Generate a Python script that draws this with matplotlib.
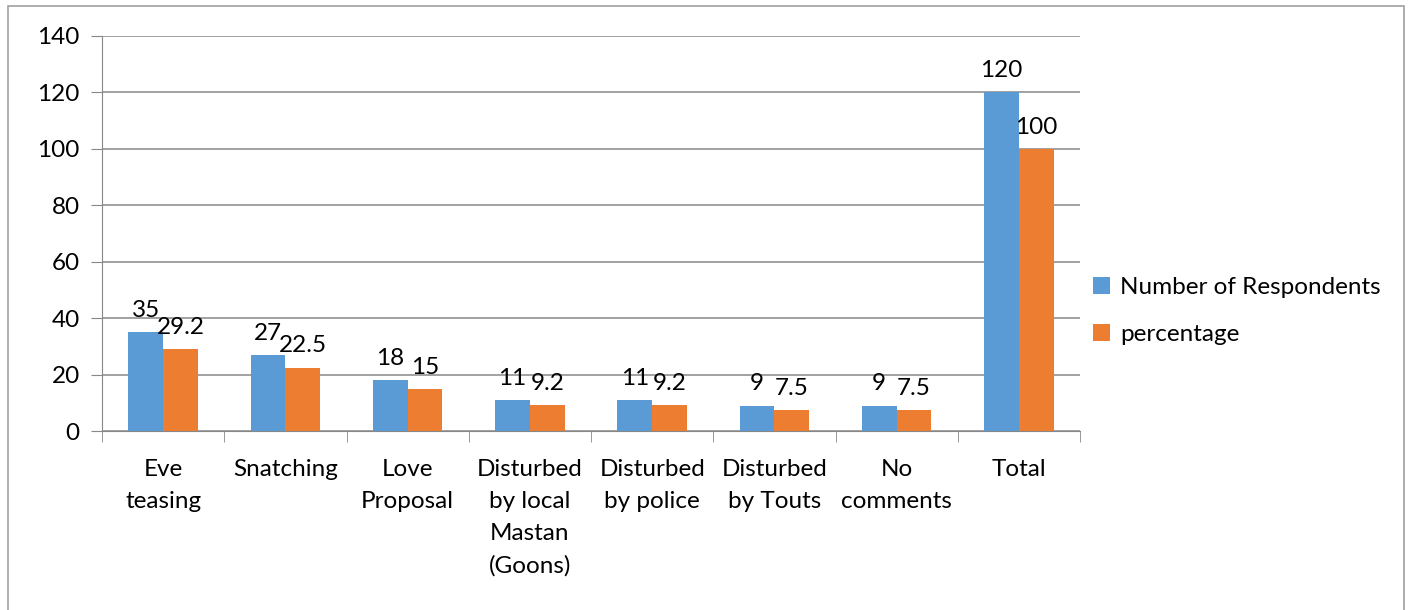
import numpy as np
import matplotlib.pyplot as plt
from matplotlib.patches import Rectangle

categories = ["Eve\nteasing", "Snatching", "Love\nProposal", "Disturbed\nby local\nMastan\n(Goons)",
              "Disturbed\nby police", "Disturbed\nby Touts", "No\ncomments", "Total"]
respondents = [35, 27, 18, 11, 11, 9, 9, 120]
percentage = [29.2, 22.5, 15, 9.2, 9.2, 7.5, 7.5, 100]
resp_labels = ["35", "27", "18", "11", "11", "9", "9", "120"]
pct_labels = ["29.2", "22.5", "15", "9.2", "9.2", "7.5", "7.5", "100"]

blue = "#5b9bd5"
orange = "#ed7d31"
grid_col = "#878787"

plt.rcParams['font.family'] = ['Lato', 'DejaVu Sans']
plt.rcParams['font.size'] = 17.5

fig = plt.figure(figsize=(14.08, 6.10), dpi=100)
ax = fig.add_axes([102/1408, 1 - 431/610, (1080-102)/1408, (431-36)/610])

# outer chart border
fig.patches.append(Rectangle((8/1408, -0.01), (1404-8)/1408, 1 - 6/610 + 0.01,
                             transform=fig.transFigure, fill=False,
                             edgecolor="#a0a0a0", linewidth=1.2))

x = np.arange(len(categories))
w = 0.285
b1 = ax.bar(x - w/2, respondents, w, color=blue, label="Number of Respondents", zorder=3)
b2 = ax.bar(x + w/2, percentage, w, color=orange, label="percentage", zorder=3)

for rect, lab in zip(b1, resp_labels):
    ax.annotate(lab, (rect.get_x() + rect.get_width()/2, rect.get_height()),
                xytext=(0, 8), textcoords="offset points", ha="center", va="bottom")
for rect, lab in zip(b2, pct_labels):
    ax.annotate(lab, (rect.get_x() + rect.get_width()/2, rect.get_height()),
                xytext=(0, 8), textcoords="offset points", ha="center", va="bottom")

ax.set_xlim(-0.5, len(categories) - 0.5)
ax.set_ylim(0, 140)
ax.set_yticks(range(0, 141, 20))
ax.yaxis.grid(True, color=grid_col, linewidth=1.1, zorder=0)
ax.tick_params(axis="y", length=8, color=grid_col, pad=8)
ax.set_xticks(x)
ax.set_xticklabels(categories, linespacing=1.65)
ax.set_xticks(np.arange(-0.5, len(categories)), minor=True)
ax.tick_params(axis="x", which="major", length=0, pad=20)
ax.tick_params(axis="x", which="minor", length=8, color=grid_col)

for s in ["top", "right"]:
    ax.spines[s].set_visible(False)
ax.spines["left"].set_color(grid_col)
ax.spines["bottom"].set_color(grid_col)

ax.legend(loc="center left", bbox_to_anchor=(0.991, 0.304), frameon=False,
          handlelength=0.7, handleheight=0.7, handletextpad=0.4, labelspacing=1.1)

fig.savefig("out.png", dpi=100)
